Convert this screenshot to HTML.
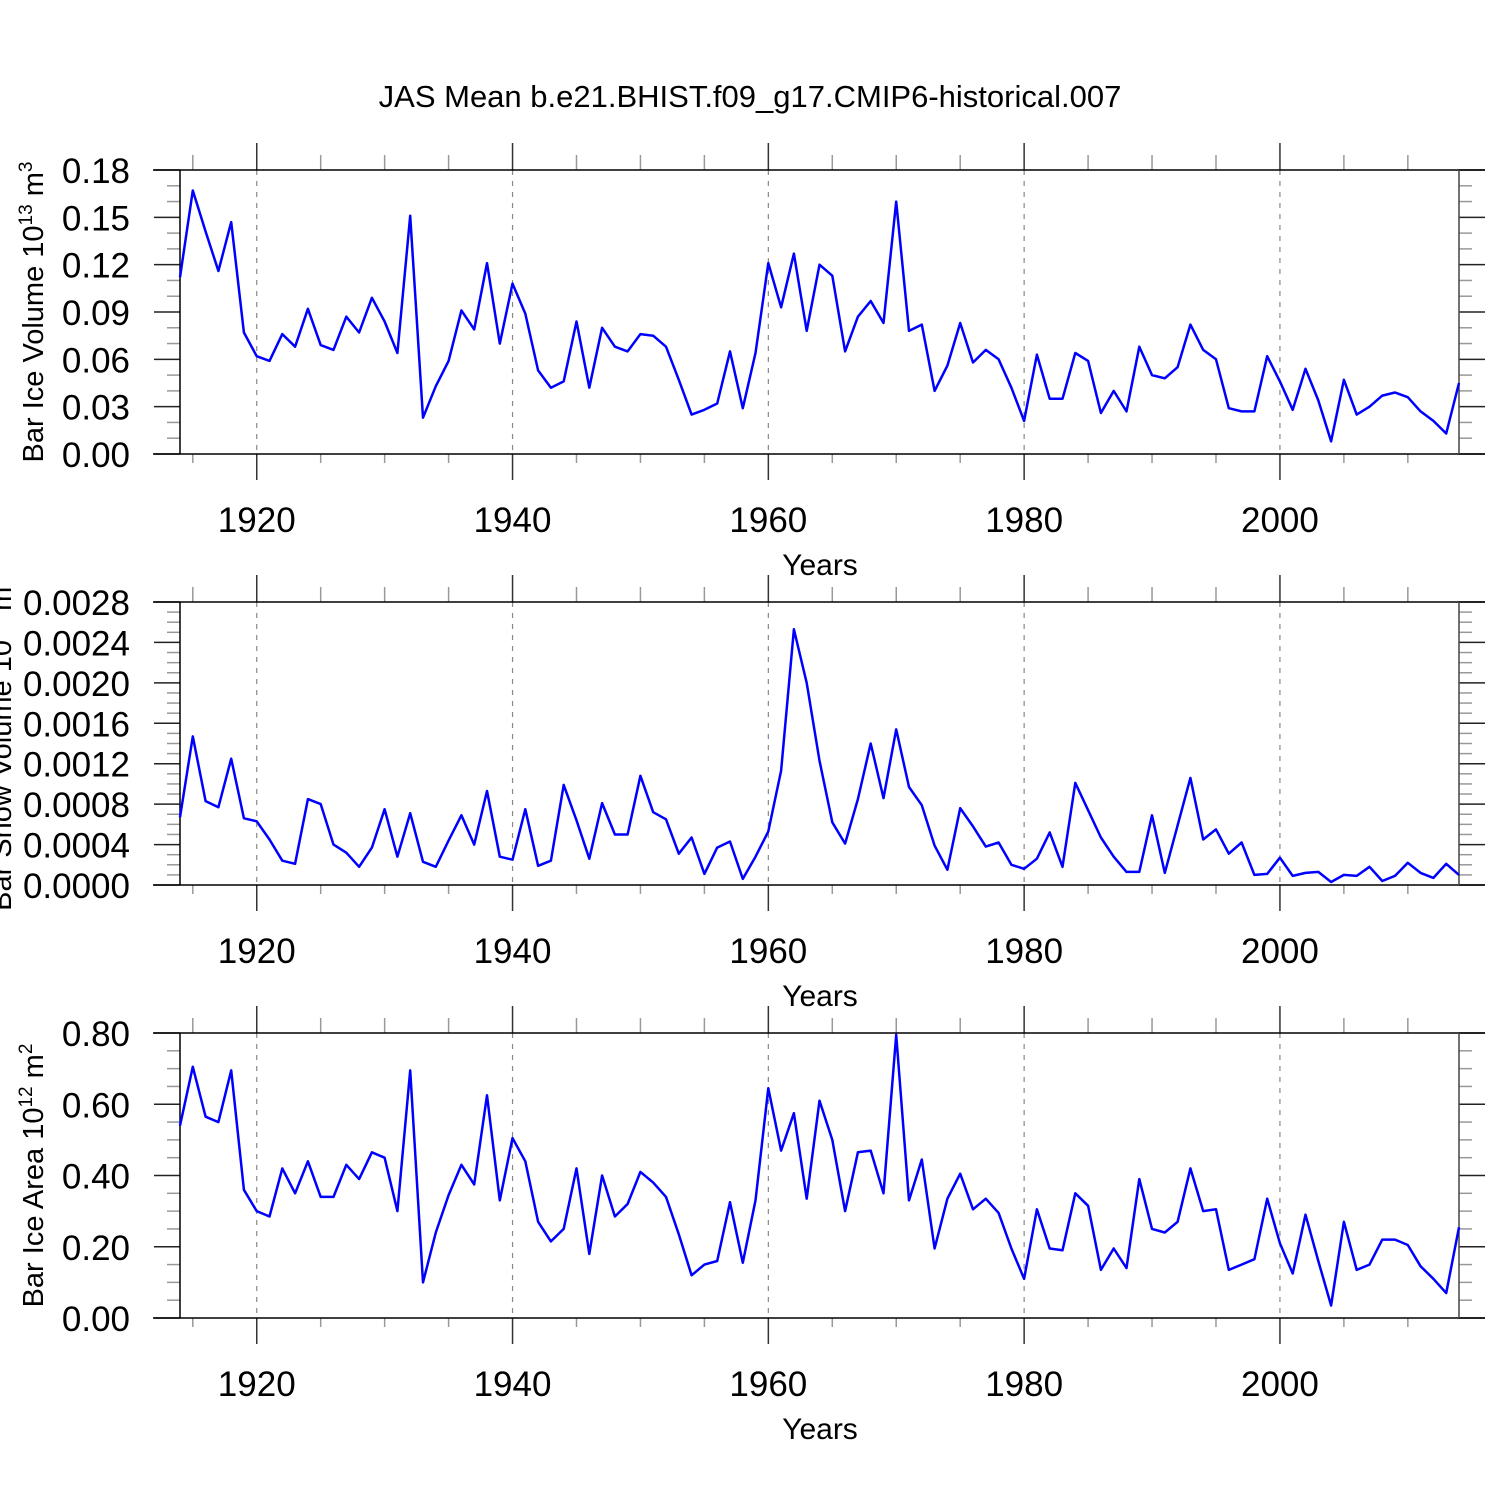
<!DOCTYPE html>
<html><head><meta charset="utf-8"><style>
html,body{margin:0;padding:0;background:#fff;}
svg{display:block;font-family:"Liberation Sans",sans-serif;}
</style></head><body>
<svg id="chart" width="1500" height="1500" viewBox="0 0 1500 1500" xmlns="http://www.w3.org/2000/svg">
<text x="750" y="107" font-size="31" text-anchor="middle">JAS Mean b.e21.BHIST.f09_g17.CMIP6-historical.007</text>
</svg>
<script>
const years = [];
for (let y = 1914; y <= 2014; y++) years.push(y);
const iceVolume = [0.112,0.167,0.141,0.116,0.147,0.077,0.062,0.059,0.076,0.068,0.092,0.069,0.066,0.087,0.077,0.099,0.084,0.064,0.151,0.023,0.043,0.059,0.091,0.079,0.121,0.070,0.108,0.089,0.053,0.042,0.046,0.084,0.042,0.080,0.068,0.065,0.076,0.075,0.068,0.047,0.025,0.028,0.032,0.065,0.029,0.064,0.121,0.093,0.127,0.078,0.120,0.113,0.065,0.087,0.097,0.083,0.160,0.078,0.082,0.040,0.056,0.083,0.058,0.066,0.060,0.042,0.021,0.063,0.035,0.035,0.064,0.059,0.026,0.040,0.027,0.068,0.050,0.048,0.055,0.082,0.066,0.060,0.029,0.027,0.027,0.062,0.046,0.028,0.054,0.034,0.008,0.047,0.025,0.030,0.037,0.039,0.036,0.027,0.021,0.013,0.045];
const snowVolume = [0.00067,0.00147,0.00083,0.00077,0.00125,0.00066,0.00063,0.00045,0.00024,0.00021,0.00085,0.00080,0.00040,0.00032,0.00018,0.00037,0.00075,0.00028,0.00071,0.00023,0.00018,0.00044,0.00069,0.00040,0.00093,0.00028,0.00025,0.00075,0.00019,0.00024,0.00099,0.00064,0.00026,0.00081,0.00050,0.00050,0.00108,0.00072,0.00065,0.00031,0.00047,0.00011,0.00037,0.00043,0.00006,0.00028,0.00053,0.00113,0.00253,0.00200,0.00123,0.00062,0.00041,0.00085,0.00140,0.00086,0.00154,0.00097,0.00079,0.00039,0.00015,0.00076,0.00058,0.00038,0.00042,0.00020,0.00016,0.00026,0.00052,0.00018,0.00101,0.00074,0.00047,0.00028,0.00013,0.00013,0.00069,0.00012,0.00059,0.00106,0.00045,0.00055,0.00031,0.00042,0.00010,0.00011,0.00027,0.00009,0.00012,0.00013,0.00003,0.00010,0.00009,0.00018,0.00004,0.00009,0.00022,0.00012,0.00007,0.00021,0.00010];
const iceArea = [0.54,0.705,0.565,0.55,0.695,0.36,0.30,0.285,0.42,0.35,0.44,0.34,0.34,0.43,0.39,0.465,0.45,0.30,0.695,0.10,0.24,0.345,0.43,0.375,0.625,0.33,0.505,0.44,0.27,0.215,0.25,0.42,0.18,0.40,0.285,0.32,0.41,0.38,0.34,0.235,0.12,0.15,0.16,0.325,0.155,0.33,0.645,0.47,0.575,0.335,0.61,0.50,0.30,0.465,0.47,0.35,0.795,0.33,0.445,0.195,0.335,0.405,0.305,0.335,0.295,0.195,0.11,0.305,0.195,0.19,0.35,0.315,0.135,0.195,0.14,0.39,0.25,0.24,0.27,0.42,0.30,0.305,0.135,0.15,0.165,0.335,0.21,0.125,0.29,0.16,0.035,0.27,0.135,0.15,0.22,0.22,0.205,0.145,0.11,0.07,0.255];
const xTickLabels = ["1920","1940","1960","1980","2000"];
const ticks1 = ["0.00","0.03","0.06","0.09","0.12","0.15","0.18"];
const ticks2 = ["0.0000","0.0004","0.0008","0.0012","0.0016","0.0020","0.0024","0.0028"];
const ticks3 = ["0.00","0.20","0.40","0.60","0.80"];

const NS = "http://www.w3.org/2000/svg";
const svg = document.getElementById('chart');
function mk(tag, attrs, parent) {
  const e = document.createElementNS(NS, tag);
  for (const k in attrs) e.setAttribute(k, attrs[k]);
  (parent || svg).appendChild(e);
  return e;
}
const L = 180, R = 1459, X0 = 1914, X1 = 2014;
function xs(y) { return L + (y - X0) * (R - L) / (X1 - X0); }

function panel(opt) {
  const g = mk('g', {});
  
  
  const top = opt.top, bot = opt.bot;
  const ymax = opt.max;
  const ys = v => bot - v / ymax * (bot - top);
  xTickLabels.forEach(t => {
    const x = xs(+t);
    const l = mk('line', {x1:x, x2:x, y1:top, y2:bot, stroke:'#888', 'stroke-width':1.2, 'stroke-dasharray':'5,6'}, g);
    
    
  });
  for (let yr = 1915; yr <= 2010; yr += 5) {
    const x = xs(yr), major = yr % 20 === 0;
    const a = major ? 27 : 15, b = major ? 26 : 9;
    const col = major ? '#333' : '#999';
    mk('line', {x1:x, x2:x, y1:top - a, y2:top, stroke:col, 'stroke-width':1.5}, g);
    mk('line', {x1:x, x2:x, y1:bot, y2:bot + b, stroke:col, 'stroke-width':1.5}, g);
  }
  const nMaj = opt.ticks.length - 1;
  const nMin = nMaj * opt.minor;
  for (let i = 0; i <= nMin; i++) {
    const v = ymax * i / nMin, y = ys(v), major = i % opt.minor === 0;
    const len = major ? 26 : 13;
    const col = major ? '#222' : '#999';
    mk('line', {x1:L - len, x2:L, y1:y, y2:y, stroke:col, 'stroke-width':1.5}, g);
    mk('line', {x1:R, x2:R + len, y1:y, y2:y, stroke:col, 'stroke-width':1.5}, g);
  }
  const lab = mk('text', {x:0, y:0, 'font-size':29, 'text-anchor':'middle', transform:`translate(${opt.labX},${(top+bot)/2}) rotate(-90)`}, g);
  
  
  lab.innerHTML = opt.label;
  opt.ticks.forEach((t, i) => {
    const tx = mk('text', {x:130, y:ys(ymax * i / nMaj) + 13, 'font-size':35, 'text-anchor':'end'}, g);
    
    
    tx.textContent = t;
  });
  mk('line', {x1:153, x2:1485, y1:top, y2:top, stroke:'#000', 'stroke-width':1.5}, g);
  mk('line', {x1:153, x2:1485, y1:bot, y2:bot, stroke:'#000', 'stroke-width':1.5}, g);
  mk('line', {x1:L, x2:L, y1:top, y2:bot, stroke:'#000', 'stroke-width':1.5}, g);
  mk('line', {x1:R, x2:R, y1:top, y2:bot, stroke:'#444', 'stroke-width':1.5}, g);
  xTickLabels.forEach(t => {
    const tx = mk('text', {x:xs(+t), y:bot + 78, 'font-size':35, 'text-anchor':'middle'}, g);
    
    
    tx.textContent = t;
  });
  const xt = mk('text', {x:820, y:bot + 121, 'font-size':30, 'text-anchor':'middle'}, g);
  
  
  xt.textContent = 'Years';
  const pts = years.map((yr, i) => xs(yr).toFixed(1) + ',' + ys(opt.data[i]).toFixed(1)).join(' ');
  const pl = mk('polyline', {points:pts, fill:'none', stroke:'#0000ff', 'stroke-width':2.5, 'stroke-linejoin':'round'}, g);
  
  
}
panel({name:'ice-volume-panel', top:170, bot:454, max:0.18, ticks:ticks1, minor:3, data:iceVolume, labX:43,
  label:'Bar Ice Volume 10<tspan dy="-11" font-size="19">13</tspan><tspan dy="11"> m</tspan><tspan dy="-11" font-size="19">3</tspan>'});
panel({name:'snow-volume-panel', top:602, bot:885, max:0.0028, ticks:ticks2, minor:4, data:snowVolume, labX:11,
  label:'Bar Snow Volume 10<tspan dy="-11" font-size="19">13</tspan><tspan dy="11"> m</tspan><tspan dy="-11" font-size="19">3</tspan>'});
panel({name:'ice-area-panel', top:1033, bot:1318, max:0.8, ticks:ticks3, minor:4, data:iceArea, labX:43,
  label:'Bar Ice Area 10<tspan dy="-11" font-size="19">12</tspan><tspan dy="11"> m</tspan><tspan dy="-11" font-size="19">2</tspan>'});
</script>
</body></html>
